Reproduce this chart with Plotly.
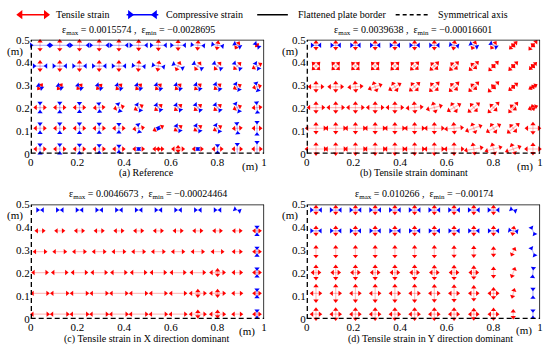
import numpy as np
import plotly.graph_objects as go

# ---------------- data ----------------
x_pos = [0.04, 0.1245, 0.209, 0.2935, 0.378, 0.4625, 0.547, 0.6315, 0.716, 0.8005, 0.885, 0.9695]
y_pos = [0.021, 0.112, 0.203, 0.294, 0.385, 0.476]
x_ticks = [0, 0.2, 0.4, 0.6, 0.8, 1]
x_ticktext = ["0", "0.2", "0.4", "0.6", "0.8", "1"]
y_ticks = [0, 0.1, 0.2, 0.3, 0.4, 0.5]
y_ticktext = ["0", "0.1", "0.2", "0.3", "0.4", "0.5"]

titles = ["ε<sub>max</sub> = 0.0015574 ,  ε<sub>min</sub> = −0.0028695",
          "ε<sub>max</sub> = 0.0039638 ,  ε<sub>min</sub> = −0.00016601",
          "ε<sub>max</sub> = 0.0046673 ,  ε<sub>min</sub> = −0.00024464",
          "ε<sub>max</sub> = 0.010266 ,  ε<sub>min</sub> = −0.00174"]
captions = ["(a) Reference", "(b) Tensile strain dominant",
            "(c) Tensile strain in X direction dominant",
            "(d) Tensile strain in Y direction dominant"]
legend_labels = ["Tensile strain", "Compressive strain", "Flattened plate border", "Symmetrical axis"]

# principal strain glyph magnitudes (rows bottom -> top), e1 along theta, e2 along theta+90
a_e1 = [[1.4, 1.4, 1.4, 1.4, 1.4, 1.3, 1.2, 1.5, 1.2, 1.2, 1.1, 1.1],
        [1.4, 1.4, 1.4, 1.4, 1.4, 1.3, 1.3, 1.0, 1.0, 1.0, 1.0, 1.0],
        [1.4, 1.4, 1.4, 1.3, 1.2, 1.1, 1.0, 1.0, 1.0, 1.0, 0.9, 1.0],
        [-0.7, -0.7, -0.8, -0.8, -0.9, -0.9, -1.0, -1.0, -1.0, -1.1, -1.1, -1.2],
        [-1.9, -1.9, -1.9, -1.9, -1.9, -1.8, -1.7, -1.6, -1.5, -1.4, -1.3, -1.0],
        [-2.8, -2.8, -2.7, -2.7, -2.6, -2.5, -2.3, -2.1, -1.9, -1.6, -1.0, -0.8]]
a_e2 = [[-1.4, -1.4, -1.3, -1.2, -1.0, -0.2, 0.1, 0.6, -0.2, -1.2, -1.6, -2.2],
        [-1.5, -1.5, -1.5, -1.4, -1.3, -1.2, -0.2, -1.0, -1.1, -1.2, -1.6, -2.0],
        [-1.5, -1.5, -1.4, -1.3, -1.2, -1.1, -1.1, -1.1, -1.2, -1.2, -1.4, -1.6],
        [0.7, 0.7, 0.7, 0.7, 0.8, 0.8, 0.8, 0.8, 0.9, 0.9, 0.9, 0.9],
        [1.2, 1.2, 1.2, 1.2, 1.2, 1.2, 1.1, 1.1, 1.1, 1.1, 1.1, 1.2],
        [1.3, 1.3, 1.3, 1.3, 1.3, 1.2, 1.2, 1.1, 1.0, 0.9, 0.8, 0.2]]
a_th = [[0, 0, 0, 0, 0, 0, 0, 0, 0, 0, 0, 0],
        [0, 0, 0, 0, 0, 10, 25, 35, 35, 30, 5, 0],
        [0, 0, 0, 5, 15, 30, 40, 40, 40, 40, 25, 5],
        [-40, -40, -42, -45, -45, -45, -45, -45, -48, -50, -60, -75],
        [0, 0, 0, 0, 0, -5, -10, -25, -35, -40, -45, -60],
        [0, 0, 0, 0, 0, 0, 0, 0, -5, -10, -30, -45]]

b_e1 = [[3.9, 3.9, 3.9, 3.9, 3.8, 3.7, 3.6, 3.5, 3.3, 3.0, 2.8, 2.8],
        [3.8, 3.8, 3.8, 3.8, 3.7, 3.6, 3.5, 3.3, 3.0, 2.8, 2.6, 2.6],
        [3.0, 3.0, 3.0, 3.0, 3.0, 2.9, 2.8, 2.6, 2.5, 2.6, 2.3, 1.4],
        [2.6, 2.6, 2.5, 2.4, 2.3, 2.2, 2.2, 2.2, 2.3, 2.5, 1.8, 1.3],
        [1.6, 1.6, 1.6, 1.6, 1.6, 1.5, 1.4, 1.3, 1.0, 0.3, 0.3, 0.3],
        [-1.7, -1.7, -1.7, -1.7, -1.7, -1.7, -1.7, -1.6, -1.5, -1.4, 0.3, 0.3]]
b_e2 = [[2.0, 2.0, 2.0, 2.0, 2.0, 2.0, 2.0, 2.0, 1.9, 1.9, 1.8, 1.8],
        [1.7, 1.7, 1.7, 1.7, 1.7, 1.7, 1.7, 1.7, 1.7, 1.7, 1.5, 1.8],
        [1.7, 1.7, 1.7, 1.7, 1.7, 1.7, 1.7, 1.7, 1.6, 1.4, 1.0, 0.6],
        [1.6, 1.6, 1.6, 1.6, 1.6, 1.6, 1.6, 1.4, 1.0, 0.5, 0.2, 0.2],
        [1.6, 1.6, 1.6, 1.6, 1.7, 1.8, 1.9, 2.0, 2.1, 2.2, 2.0, 1.5],
        [1.3, 1.3, 1.3, 1.3, 1.3, 1.3, 1.3, 1.3, 1.3, 1.3, 1.6, 2.0]]
b_th = [[0, 0, 0, 0, 0, 0, 0, 0, 10, 15, 20, 0],
        [0, 0, 0, 0, 0, 0, 0, 5, 20, 30, 40, 0],
        [0, 0, 0, 0, 0, 5, 15, 30, 40, 45, 50, 20],
        [0, 0, 5, 20, 30, 40, 45, 45, 45, 45, 40, 30],
        [-45, -45, -45, -45, -45, -45, -45, -45, -45, -45, -45, -45],
        [0, 0, 0, 0, 0, 0, 0, -10, -25, -35, -45, -40]]

c_e1 = [[3.3, 3.3, 3.3, 3.3, 3.3, 3.3, 3.2, 3.1, 2.9, 2.7, 1.6, 1.1],
        [3.2, 3.2, 3.2, 3.2, 3.2, 3.2, 3.1, 3.0, 2.9, 2.7, 1.6, 1.1],
        [2.8, 2.8, 2.8, 2.8, 2.8, 2.8, 2.8, 2.7, 2.6, 2.6, 1.5, 1.1],
        [2.2, 2.2, 2.2, 2.2, 2.2, 2.2, 2.2, 2.1, 2.1, 2.0, 1.4, 1.1],
        [1.4, 1.4, 1.4, 1.4, 1.4, 1.4, 1.4, 1.4, 1.4, 1.3, 1.3, 1.1],
        [-1.1, -1.1, -1.1, -1.1, -1.1, -1.1, -1.1, -1.1, -1.1, -1.1, -1.1, 0.0]]
c_e2 = [[0, 0, 0, 0, 0, 0, 0, 0, 1.0, 1.0, 0, -1.6],
        [0, 0, 0, 0, 0, 0, 0, 0, 1.0, 1.0, 0, -1.6],
        [0, 0, 0, 0, 0, 0, 0, 0, 0, 1.0, 0, -1.7],
        [0, 0, 0, 0, 0, 0, 0, 0, 0, 0, 0, -1.7],
        [0, 0, 0, 0, 0, 0, 0, 0, 0, 0, 0, -1.7],
        [0, 0, 0, 0, 0, 0, 0, 0, 0, 0, 0, 0]]
c_th = [[0] * 12, [0] * 12, [0] * 12, [0] * 12, [0] * 12,
        [0, 0, 0, 0, 0, 0, 0, 0, 0, 0, -20, 0]]

d_e1 = [[1.7, 1.7, 1.7, 1.7, 1.7, 1.7, 1.7, 1.6, 1.5, 1.6, 0.0, 0.0],
        [1.7, 1.7, 1.7, 1.7, 1.7, 1.7, 1.7, 1.6, 1.5, 1.6, 0.0, 0.0],
        [1.3, 1.3, 1.3, 1.3, 1.3, 1.3, 1.3, 1.3, 1.3, 0.0, 0.0, 0.0],
        [0.0, 0.0, 0.0, 0.0, 0.0, 0.0, 0.0, 0.0, 0.0, 0.0, 0.0, 0.0],
        [-1.9, -1.9, -1.9, -1.9, -1.9, -1.9, -1.9, -1.9, -1.9, -1.9, -1.6, 0.0],
        [-2.0, -2.0, -2.0, -2.0, -2.0, -2.0, -2.0, -2.0, -2.0, -2.0, -1.0, 0.0]]
d_e2 = [[2.0, 2.0, 2.0, 2.0, 2.0, 2.0, 2.0, 2.0, 1.8, 1.9, 1.3, -1.6],
        [3.2, 3.2, 3.2, 3.2, 3.2, 3.2, 3.1, 3.0, 2.6, 1.8, 1.4, -1.9],
        [2.5, 2.5, 2.5, 2.5, 2.5, 2.5, 2.4, 2.4, 2.2, 1.6, 1.6, -1.9],
        [1.9, 1.9, 1.9, 1.9, 1.9, 1.9, 1.9, 1.8, 1.7, 1.4, 1.3, -1.7],
        [1.3, 1.3, 1.3, 1.3, 1.3, 1.3, 1.3, 1.3, 1.3, 1.3, 1.3, -1.6],
        [1.3, 1.3, 1.3, 1.3, 1.3, 1.3, 1.3, 1.3, 1.3, 1.3, 0.0, 0.0]]
d_th = [[0, 0, 0, 0, 0, 0, 0, 0, 0, 0, 0, 0],
        [0, 0, 0, 0, 0, 0, 0, 0, 0, 0, -15, 0],
        [0, 0, 0, 0, 0, 0, 0, 0, 0, 0, -20, -5],
        [0, 0, 0, 0, 0, 0, 0, 0, 0, 0, -25, 25],
        [0, 0, 0, 0, 0, 0, 0, 0, 0, 0, -10, 25],
        [0, 0, 0, 0, 0, 0, 0, 0, 0, 0, -20, 0]]

panels = [(a_e1, a_e2, a_th, 0.0135), (b_e1, b_e2, b_th, 0.01),
          (c_e1, c_e2, c_th, 0.01), (d_e1, d_e2, d_th, 0.01)]

# ---------------- layout geometry (px) ----------------
W, H = 550, 354
boxes = [(28, 264, 35, 153), (307, 543, 35, 153), (28, 264, 205.5, 324), (307, 543, 205.5, 324)]
RED, BLUE = "#ff0000", "#0000ff"
FONT = "Liberation Serif"
HEAD = 4.6


def px(x):
    return x / W


def py(y):
    return 1 - y / H


fig = go.Figure()


def glyphs(e1, e2, th, scale):
    sh = {1: ([], []), -1: ([], [])}
    hd = {1: ([], [], []), -1: ([], [], [])}
    for j, y in enumerate(y_pos):
        for i, x in enumerate(x_pos):
            for v, ang in ((e1[j][i], th[j][i]), (e2[j][i], th[j][i] + 90)):
                if abs(v) < 0.05:
                    continue
                L = abs(v) * scale
                r = np.radians(ang)
                dx, dy = L * np.cos(r), L * np.sin(r)
                k = 1 if v > 0 else -1
                sh[k][0].extend([x - dx, x + dx, None])
                sh[k][1].extend([y - dy, y + dy, None])
                out = 90 - ang
                hd[k][0].extend([x + dx, x - dx])
                hd[k][1].extend([y + dy, y - dy])
                if k == 1:
                    hd[k][2].extend([out, out + 180])
                else:
                    hd[k][2].extend([out + 180, out])
    return sh, hd


for p, (e1, e2, th, scale) in enumerate(panels):
    n = "" if p == 0 else str(p + 1)
    xa, ya = "x" + n, "y" + n
    sh, hd = glyphs(e1, e2, th, scale)
    for k, light in ((1, "rgba(255,0,0,0.25)"), (-1, "rgba(0,0,255,0.28)")):
        fig.add_trace(go.Scatter(x=sh[k][0], y=sh[k][1], mode="lines",
                                 line=dict(color=light, width=1.2), xaxis=xa, yaxis=ya,
                                 hoverinfo="skip", showlegend=False))
    for k, col in ((1, RED), (-1, BLUE)):
        fig.add_trace(go.Scatter(x=hd[k][0], y=hd[k][1], mode="markers",
                                 marker=dict(symbol="triangle-up", size=HEAD, color=col,
                                             angle=hd[k][2], line=dict(width=0)),
                                 xaxis=xa, yaxis=ya, cliponaxis=False,
                                 hoverinfo="skip", showlegend=False))
    # borders
    fig.add_shape(type="line", xref=xa, yref=ya, x0=0, x1=1, y0=0.5, y1=0.5,
                  line=dict(color="black", width=1.6))
    fig.add_shape(type="line", xref=xa, yref=ya, x0=1, x1=1, y0=0, y1=0.5,
                  line=dict(color="black", width=1.6))
    fig.add_shape(type="line", xref=xa, yref=ya, x0=0, x1=0, y0=0, y1=0.5,
                  line=dict(color="black", width=2.6, dash="5px,3px"))
    fig.add_shape(type="line", xref=xa, yref=ya, x0=0, x1=1, y0=0, y1=0,
                  line=dict(color="black", width=2.6, dash="5px,3px"))

# axes
layout_axes = {}
for p, (x0, x1, y0, y1) in enumerate(boxes):
    n = "" if p == 0 else str(p + 1)
    layout_axes["xaxis" + n] = dict(domain=[px(x0), px(x1)], range=[0, 1], anchor="y" + n,
                                    tickvals=x_ticks, ticktext=x_ticktext, showgrid=False,
                                    zeroline=False, showline=False, ticks="",
                                    tickfont=dict(family=FONT, size=11, color="black"),
                                    fixedrange=True)
    layout_axes["yaxis" + n] = dict(domain=[py(y1), py(y0)], range=[0, 0.5], anchor="x" + n,
                                    tickvals=y_ticks, ticktext=y_ticktext, showgrid=False,
                                    zeroline=False, showline=False, ticks="",
                                    tickfont=dict(family=FONT, size=11, color="black"),
                                    fixedrange=True)

# legend strip axis (pixel coordinates)
layout_axes["xaxis5"] = dict(domain=[0, 1], range=[0, W], visible=False, anchor="y5", fixedrange=True)
layout_axes["yaxis5"] = dict(domain=[py(20), 1], range=[20, 0], visible=False, anchor="x5", fixedrange=True)

LY = 9
fig.add_trace(go.Scatter(x=[15, 46], y=[LY, LY], mode="lines", line=dict(color=RED, width=1.5),
                         xaxis="x5", yaxis="y5", showlegend=False, hoverinfo="skip"))
fig.add_trace(go.Scatter(x=[17.5, 43.5], y=[LY, LY], mode="markers",
                         marker=dict(symbol="triangle-up", size=8, color=RED, angle=[-90, 90]),
                         xaxis="x5", yaxis="y5", showlegend=False, hoverinfo="skip", cliponaxis=False))
fig.add_trace(go.Scatter(x=[125, 157], y=[LY, LY], mode="lines", line=dict(color=BLUE, width=1.5),
                         xaxis="x5", yaxis="y5", showlegend=False, hoverinfo="skip"))
fig.add_trace(go.Scatter(x=[128.5, 153.5], y=[LY, LY], mode="markers",
                         marker=dict(symbol="triangle-up", size=8, color=BLUE, angle=[90, -90]),
                         xaxis="x5", yaxis="y5", showlegend=False, hoverinfo="skip", cliponaxis=False))
fig.add_trace(go.Scatter(x=[257, 288], y=[LY, LY], mode="lines", line=dict(color="black", width=1.4),
                         xaxis="x5", yaxis="y5", showlegend=False, hoverinfo="skip"))
fig.add_trace(go.Scatter(x=[397, 430], y=[LY, LY], mode="lines",
                         line=dict(color="black", width=1.4, dash="4px,3px"),
                         xaxis="x5", yaxis="y5", showlegend=False, hoverinfo="skip"))

annotations = []
for xl, txt in zip([52, 163, 296, 438], legend_labels):
    annotations.append(dict(x=px(xl), y=py(LY), xref="paper", yref="paper", text=txt,
                            showarrow=False, xanchor="left", yanchor="middle",
                            font=dict(family=FONT, size=10, color="black")))

title_pos = [(137, 25), (415, 25), (147, 195), (426, 195)]
cap_pos = [(145, 173), (416, 173), (145, 344.5), (432, 344.5)]
mx_pos = [(250, 166), (528, 166), (247, 337), (527, 336)]
my_pos = [(12, 47), (290, 47), (12, 217), (290, 217)]
for t, c, (tx, ty), (cx, cy), (mx, my), (ux, uy) in zip(titles, captions, title_pos, cap_pos, mx_pos, my_pos):
    annotations.append(dict(x=px(tx), y=py(ty), xref="paper", yref="paper", text=t, showarrow=False,
                            xanchor="center", yanchor="middle", font=dict(family=FONT, size=10, color="black")))
    annotations.append(dict(x=px(cx), y=py(cy), xref="paper", yref="paper", text=c, showarrow=False,
                            xanchor="center", yanchor="middle", font=dict(family=FONT, size=10, color="black")))
    annotations.append(dict(x=px(mx), y=py(my), xref="paper", yref="paper", text="(m)", showarrow=False,
                            xanchor="center", yanchor="middle", font=dict(family=FONT, size=11, color="black")))
    annotations.append(dict(x=px(ux), y=py(uy), xref="paper", yref="paper", text="(m)", showarrow=False,
                            xanchor="center", yanchor="middle", font=dict(family=FONT, size=11, color="black")))

fig.update_layout(width=W, height=H, margin=dict(l=0, r=0, t=0, b=0),
                  paper_bgcolor="white", plot_bgcolor="rgba(0,0,0,0)",
                  annotations=annotations, showlegend=False, **layout_axes)

fig.write_html("out.html", config={"displayModeBar": False},
               post_script="document.body.style.margin='0px';document.body.style.overflow='hidden';")
